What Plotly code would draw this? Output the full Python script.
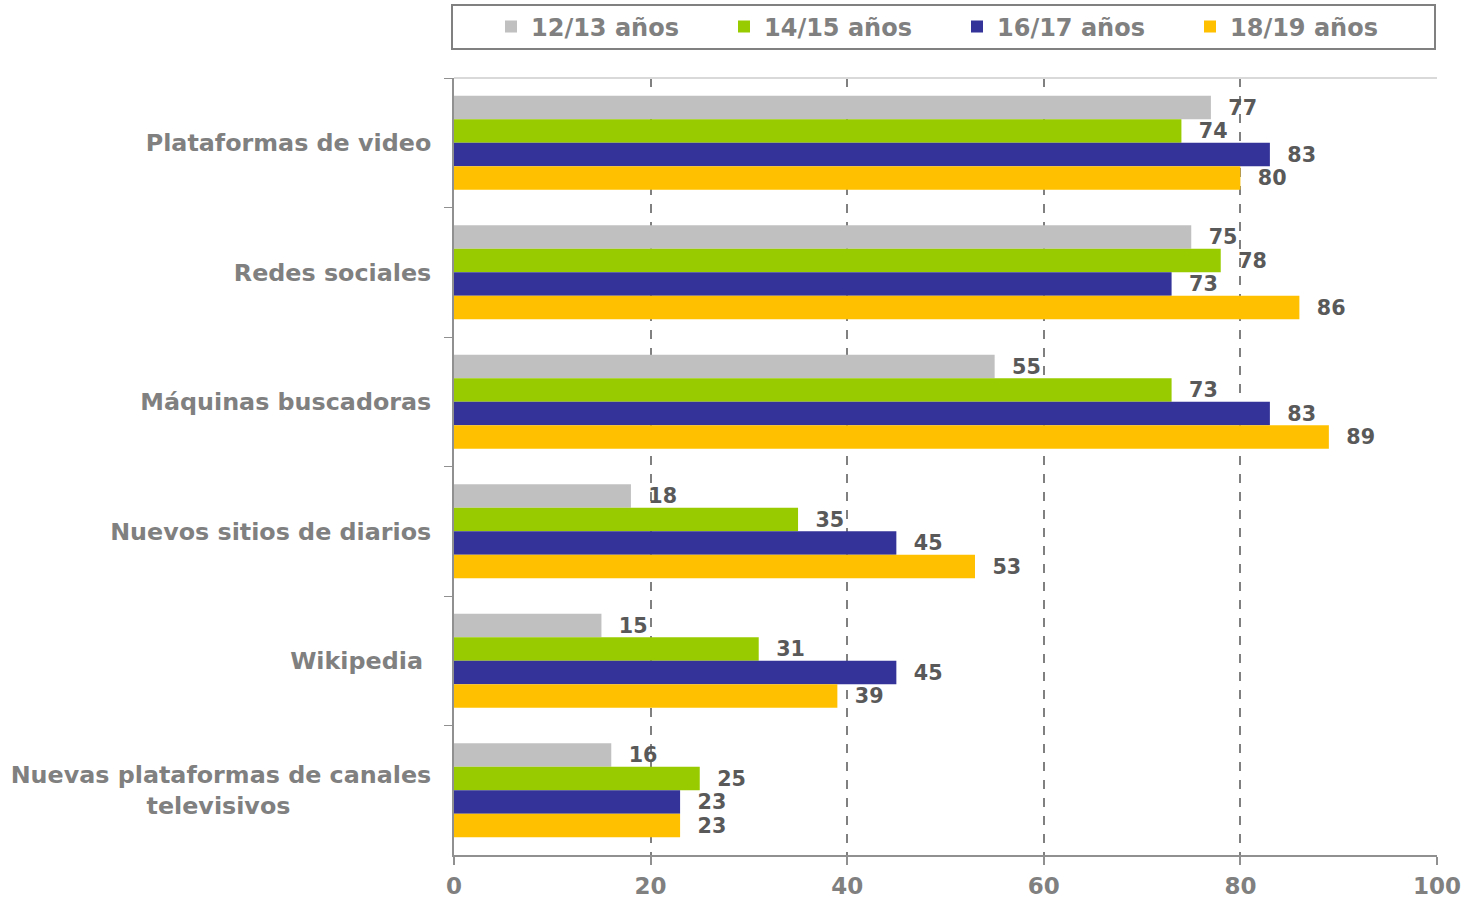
import plotly.graph_objects as go

categories = ["Plataformas de video", "Redes sociales", "Máquinas buscadoras",
              "Nuevos sitios de diarios", "Wikipedia ",
              "Nuevas plataformas de canales<br>televisivos" + "\u00a0" * 17]
series_names = ["12/13 años", "14/15 años", "16/17 años", "18/19 años"]
v_12_13 = [77, 75, 55, 18, 15, 16]
v_14_15 = [74, 78, 73, 35, 31, 25]
v_16_17 = [83, 73, 83, 45, 45, 23]
v_18_19 = [80, 86, 89, 53, 39, 23]
colors = ["#C0C0C0", "#99CC00", "#333399", "#FFC000"]

L, R, T, B = 454, 29, 78, 44
W, H = 1466, 899
PH = H - T - B
FONT = "DejaVu Sans"

def py(pix):
    return (H - B - pix) / PH

def px(pix):
    return (pix - L) / (W - L - R)

fig = go.Figure()
for name, vals, col in zip(series_names, [v_12_13, v_14_15, v_16_17, v_18_19], colors):
    fig.add_trace(go.Bar(
        y=categories, x=vals, name=name, orientation="h",
        marker=dict(color=col, line=dict(width=0)),
        text=["\u00a0\u00a0" + str(v) for v in vals], textposition="outside",
        textfont=dict(family=FONT, size=22, color="#595959", weight="bold"),
        cliponaxis=False,
    ))

fig.update_layout(
    width=W, height=H,
    barmode="group", bargap=0.274, bargroupgap=0,
    plot_bgcolor="white", paper_bgcolor="white",
    margin=dict(l=L, r=R, t=T, b=B, autoexpand=False),
    font=dict(family=FONT, color="#808080"),
    legend=dict(
        orientation="h", x=px(491), xanchor="left", y=py(27), yanchor="middle",
        borderwidth=0, bgcolor="rgba(0,0,0,0)",
        font=dict(family=FONT, size=24, color="#808080", weight="bold"),
        entrywidth=188, entrywidthmode="pixels",
        traceorder="normal", itemwidth=30,
    ),
)

fig.update_xaxes(
    range=[0, 100], dtick=20, tick0=0,
    showgrid=True, gridcolor="#808080", griddash="dash", gridwidth=1.5,
    showline=True, linecolor="#909090", linewidth=2,
    ticks="outside", ticklen=8, tickcolor="#909090", tickwidth=1.5,
    tickfont=dict(family=FONT, size=23, color="#808080", weight="bold"),
    ticklabelstandoff=1,
    zeroline=False, automargin=False,
)
fig.update_yaxes(
    autorange="reversed",
    showline=True, linecolor="#909090", linewidth=2,
    ticks="outside", tickson="boundaries", ticklen=8, tickcolor="#909090",
    tickfont=dict(family=FONT, size=23.8, color="#808080", weight="bold"),
    ticklabelstandoff=16, automargin=False,
)
fig.add_shape(type="line", xref="paper", yref="paper", x0=0, x1=1, y0=1, y1=1,
              line=dict(color="#D9D9D9", width=2))
fig.add_shape(type="rect", xref="paper", yref="paper",
              x0=px(452), x1=px(1435), y0=py(49), y1=py(5),
              line=dict(color="#808080", width=2), fillcolor="rgba(0,0,0,0)")

fig.write_html("out.html", config={"displayModeBar": False},
               post_script="document.body.style.margin='0px';")
